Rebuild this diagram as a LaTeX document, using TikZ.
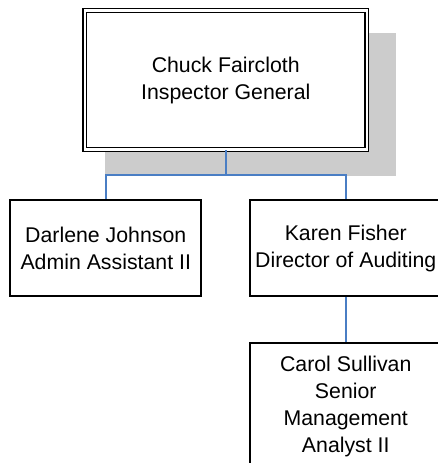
\documentclass[tikz,border=0pt]{standalone}
\usepackage{fontspec}
\setmainfont{Liberation Sans}
\usetikzlibrary{shadows}
\definecolor{linkblue}{HTML}{4A7EC4}
\begin{document}
\begin{tikzpicture}[
    every node/.style={draw=black, line width=1.6pt, fill=white, align=center,
        minimum width=191pt, minimum height=96pt, inner sep=2pt,
        font=\fontsize{21.3}{27}\selectfont},
    headbox/.style={minimum width=282pt, minimum height=139pt, line width=1.4pt,
        double=white, double distance=2.1pt,
        drop shadow={shadow xshift=24.25pt, shadow yshift=-23.5pt, shadow scale=1.03,
            fill=black!20, opacity=1}},
    tallbox/.style={minimum height=126pt},
    edge from parent/.style={draw=linkblue, line width=1.5pt},
    edge from parent path={(\tikzparentnode.south) -- ++(0,-25pt) -| (\tikzchildnode.north)},
    level 1/.style={level distance=168pt, sibling distance=240pt},
    level 2/.style={level distance=158pt}]
\useasboundingbox (0,0) rectangle (437pt,-463pt);
\node[headbox] (ig) at (225.75pt,-80pt) {Chuck Faircloth\\Inspector General}
    child {node (assist) {Darlene Johnson\\Admin Assistant II}}
    child {node (audit) {Karen Fisher\\Director of Auditing}
        child {node[tallbox] (analyst) {Carol Sullivan\\Senior\\Management\\Analyst II}}};
\end{tikzpicture}
\end{document}
